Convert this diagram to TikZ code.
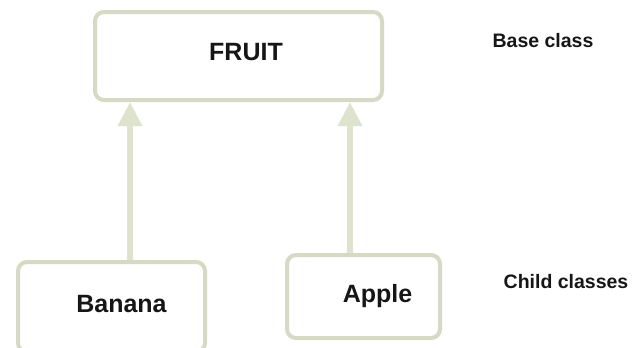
\documentclass[tikz,border=0pt]{standalone}
\usepackage{fontspec}
\setmainfont{Liberation Sans}
\usetikzlibrary{arrows.meta}
\definecolor{boxline}{RGB}{214,218,196}
\definecolor{arrowfill}{RGB}{222,227,205}
\definecolor{ink}{RGB}{22,22,22}
\begin{document}
\begin{tikzpicture}[x=1pt,y=-1pt,
  classbox/.style={draw=boxline, line width=4pt, rounded corners=9pt, fill=white,
    text=ink, font=\fontsize{25}{28}\selectfont\bfseries, inner sep=0pt},
  note/.style={text=ink, font=\fontsize{19.5}{22}\selectfont\bfseries, inner sep=0pt},
  inherits/.style={draw=arrowfill, line width=6pt,
    -{Triangle[width=23pt,length=24pt,fill=arrowfill]}}]
  \useasboundingbox[fill=white] (0,0) rectangle (635,348);
  \clip (0,0) rectangle (635,348);

  % base class and the two derived classes
  \node[classbox, minimum width=287pt, minimum height=88pt] (fruit) at (238.5,56)
    {\hspace*{15pt}\raisebox{9pt}{FRUIT}};
  \node[classbox, minimum width=187pt, minimum height=90pt] (banana) at (111.5,307)
    {\hspace*{20pt}\raisebox{6pt}{Banana}};
  \node[classbox, minimum width=153pt, minimum height=83pt] (apple) at (363.5,296.5)
    {\hspace*{28pt}\raisebox{5pt}{Apple}};

  % inheritance arrows pointing up to the base class
  \draw[inherits] ([xshift=18.5pt]banana.north) -- ([xshift=-108.5pt]fruit.south);
  \draw[inherits] ([xshift=-13.5pt]apple.north) -- ([xshift=111.5pt]fruit.south);

  % side annotations
  \node[note] (basecap) at (543,41) {Base class};
  \node[note] (childcap) at (566,282) {Child classes};
\end{tikzpicture}
\end{document}
